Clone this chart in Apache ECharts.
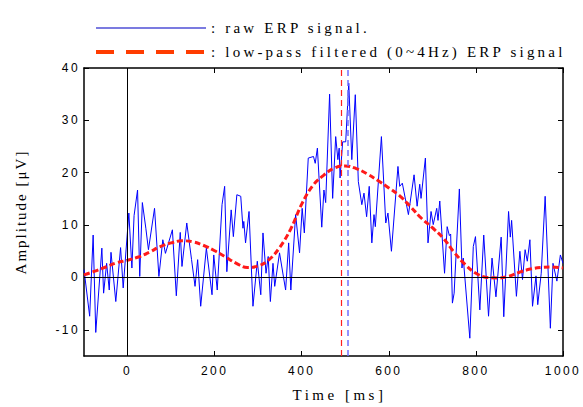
<!DOCTYPE html>
<html>
<head>
<meta charset="utf-8">
<script src="https://cdn.jsdelivr.net/npm/echarts@6/dist/echarts.min.js"></script>
<style>
html,body{margin:0;padding:0;background:#fff;}
#chart{width:583px;height:407px;}
</style>
</head>
<body>
<div id="chart"></div>
<script>
// ---- data ----
const rawName = 'raw ERP signal.';
const filtName = 'low-pass filtered (0~4Hz) ERP signal';
const rawT = [-100,-87,-79,-73,-59,-55,-48,-42,-38,-27,-16,-10,3,10,15,23,28,34,42,48,62,72,81,87,103,112,121,125,136,147,155,161,168,181,194,198,206,217,223,228,238,243,251,260,265,267,271,279,288,298,306,311,318,323,328,334,338,349,363,370,375,386,395,401,406,415,427,431,436,446,451,455,464,471,478,483,486,488,494,501,508,515,523,530,538,543,549,555,561,566,569,583,593,598,606,621,625,631,645,658,665,671,674,684,690,697,702,710,713,717,728,734,739,742,746,750,762,768,771,786,794,799,809,818,829,837,846,858,864,875,879,882,893,901,907,913,918,924,930,938,942,950,959,971,977,986,994,1000];
const rawV = [1.5,-7.4,8.1,-10.5,5.6,-3.0,2.7,-2.4,4.8,-4.6,5.7,-2.0,12.3,1.8,11.8,16.7,0.2,14.3,9.4,5.3,13.2,0.2,7.2,4.6,9.1,-3.5,8.6,2.1,10.4,3.4,-1.7,3.4,-5.5,5.6,-3.3,4.3,-2.4,13.9,17.4,1.1,12.9,7.8,15.8,15.5,9.4,10.7,6.6,12.6,-5.5,3.1,-3.3,8.5,0.8,4.0,-4.6,2.7,-1.7,4.7,-2.4,6.6,-2.4,12.0,4.7,13.2,8.5,22.8,23.1,21.8,24.7,9.6,16.7,14.3,35.0,15.1,26.9,22.5,24.7,19.0,25.9,25.9,37.1,22.5,34.9,18.3,13.9,16.1,11.6,17.4,6.6,12.0,9.7,26.9,10.4,12.3,5.0,21.2,17.4,18.0,12.0,19.6,13.6,17.8,15.1,22.8,6.6,12.6,10.1,13.2,10.9,14.6,0.8,9.7,8.0,8.3,-4.9,-3.0,16.9,1.8,3.7,-11.6,5.9,7.8,-6.2,8.1,-7.4,3.7,-3.7,7.7,-7.5,12.6,7.7,10.9,-3.6,5.0,-0.4,5.3,3.1,7.2,-5.5,0.3,-5.2,0.8,15.5,-9.7,2.7,-0.7,4.3,2.7];
const filtT = [-100,-75,-50,-25,0,25,50,75,100,125,150,175,200,225,250,275,300,325,350,375,400,425,450,475,500,525,550,575,600,625,650,675,700,725,750,775,800,825,850,875,900,925,950,975,1000];
const filtV = [0.5,1.2,2.0,2.8,3.3,3.9,4.8,5.9,6.6,7.0,6.8,6.1,5.1,3.9,2.7,1.9,2.2,3.4,5.8,9.3,14.0,17.5,19.5,20.9,21.3,20.8,19.8,18.5,17.1,15.6,13.5,11.3,9.5,7.5,4.8,2.5,0.8,0.0,-0.1,0.2,1.0,1.6,1.9,2.0,1.8];
const peakFiltT = 490;
const peakRawT = 506;
const xTicks = [0,200,400,600,800,1000];
const yTicks = [-10,0,10,20,30,40];
const xMin = -100, xMax = 1000, yMin = -15, yMax = 40;

const rawData = rawT.map((t,i)=>[t, rawV[i]]);
const filtData = filtT.map((t,i)=>[t, filtV[i]]);

const chart = echarts.init(document.getElementById('chart'), null, {renderer:'svg'});
const sans = 'Liberation Sans';
const serif = 'Liberation Serif';
const frame = {show:true, onZero:false, lineStyle:{color:'#000', width:1.5}};
const plain = v => String(v);
const hiddenSym = {color:'rgba(0,0,0,0)', borderWidth:0, opacity:0};

const option = {
  animation:false,
  backgroundColor:'#fff',
  grid:{left:84, right:20, top:68, bottom:51},
  legend:{
    orient:'vertical', left:89, top:15, itemWidth:110, itemHeight:16, itemGap:8,
    formatter:': {name}',
    selectedMode:false,
    itemStyle:hiddenSym,
    textStyle:{fontFamily:serif, fontSize:15, color:'#000', lineHeight:16},
    data:[
      {name:rawName, itemStyle:hiddenSym, lineStyle:{color:'#7b7be0', width:2}},
      {name:filtName, itemStyle:hiddenSym, lineStyle:{color:'#ff3c00', width:4, type:[18,12]}}
    ]
  },
  xAxis:[
    {type:'value', min:xMin, max:xMax, position:'bottom',
     axisLine:frame, splitLine:{show:false},
     axisTick:{inside:true, length:5, customValues:xTicks, lineStyle:{color:'#000'}},
     axisLabel:{customValues:xTicks, formatter:plain, fontFamily:sans, fontSize:12, color:'#000', margin:9},
     name:'Time [ms]', nameLocation:'middle', nameGap:31,
     nameTextStyle:{fontFamily:serif, fontSize:15, color:'#000', padding:[0,0,0,32]}},
    {type:'value', min:xMin, max:xMax, position:'top',
     axisLine:frame, splitLine:{show:false},
     axisTick:{inside:true, length:5, customValues:xTicks, lineStyle:{color:'#000'}},
     axisLabel:{show:false}}
  ],
  yAxis:[
    {type:'value', min:yMin, max:yMax, position:'left',
     axisLine:frame, splitLine:{show:false},
     axisTick:{inside:true, length:5, customValues:yTicks, lineStyle:{color:'#000'}},
     axisLabel:{customValues:yTicks, formatter:plain, fontFamily:sans, fontSize:12, color:'#000', margin:4},
     name:'Amplitude [μV]', nameLocation:'middle', nameGap:56, nameRotate:90,
     nameTextStyle:{fontFamily:serif, fontSize:15, color:'#000'}},
    {type:'value', min:yMin, max:yMax, position:'right',
     axisLine:frame, splitLine:{show:false},
     axisTick:{inside:true, length:5, customValues:yTicks, lineStyle:{color:'#000'}},
     axisLabel:{show:false}}
  ],
  series:[
    {name:'zero', type:'line', data:[], silent:true, z:1,
     markLine:{silent:true, symbol:'none', label:{show:false},
       data:[
         {yAxis:0, lineStyle:{color:'#000', width:1, type:'solid'}},
         {xAxis:0, lineStyle:{color:'#000', width:1, type:'solid'}}
       ]}},
    {name:rawName, type:'line', data:rawData, showSymbol:false, symbol:'none', z:2,
     lineStyle:{color:'#0000ff', width:1}, itemStyle:{color:'#0000ff'}},
    {name:filtName, type:'line', data:filtData, showSymbol:false, symbol:'none', smooth:0.4, z:3,
     lineStyle:{color:'#ff1a1a', width:3, type:[6,3]}, itemStyle:{color:'#ff1a1a'}},
    {name:'peaks', type:'line', data:[], silent:true, z:4,
     markLine:{silent:true, symbol:'none', label:{show:false},
       data:[
         {xAxis:peakFiltT, lineStyle:{color:'#ff2020', width:1.2, type:[6,4]}},
         {xAxis:peakRawT, lineStyle:{color:'#6f6fff', width:1.5, type:[6,4]}}
       ]}}
  ]
};
chart.setOption(option);

function applySpacing(){
  const texts = document.querySelectorAll('#chart svg text');
  texts.forEach(t=>{
    const s = t.textContent || '';
    let sp = '3.2px';
    if (/^[-0-9.]+$/.test(s)) sp = '2.4px';
    else if (s.indexOf('Time') === 0) sp = '3.5px';
    else if (s.indexOf('Amplitude') === 0) sp = '2px';
    t.style.letterSpacing = sp;
  });
}
applySpacing();
chart.on('finished', applySpacing);
</script>
</body>
</html>
